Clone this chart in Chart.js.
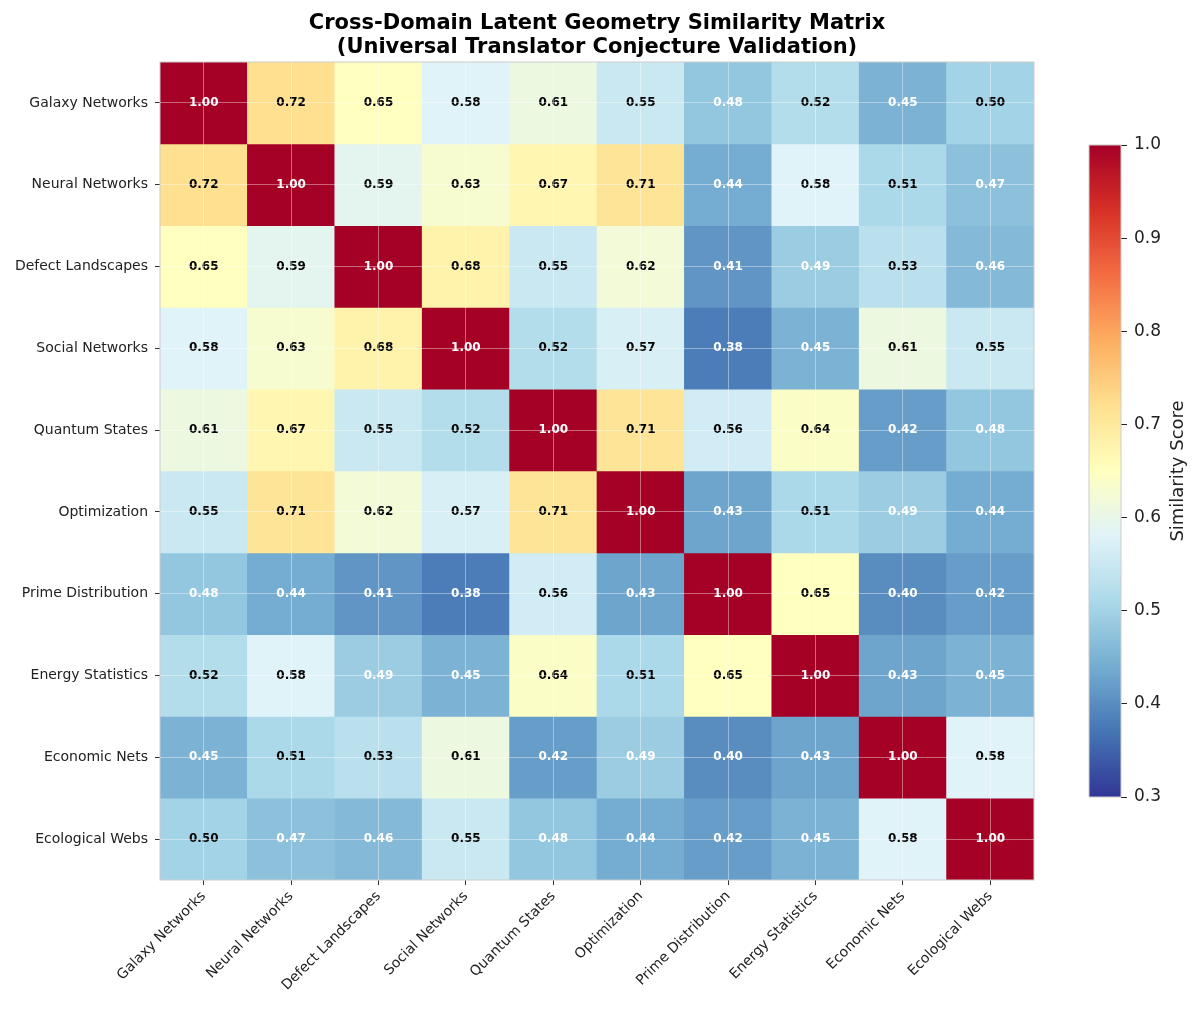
<!DOCTYPE html>
<html>
<head>
<meta charset="utf-8">
<script src="https://cdn.jsdelivr.net/npm/chart.js@4.4.1/dist/chart.umd.min.js"></script>
<style>
  body { margin: 0; background: #fff; }
  #wrap { position: relative; width: 1200px; height: 1010px; }
  #heat { position: absolute; left: 0; top: 0; }
  #cbar { position: absolute; left: 1085px; top: 125px; }
</style>
</head>
<body>
<div id="wrap">
  <canvas id="heat" width="1200" height="1010"></canvas>
  <canvas id="cbar" width="115" height="690"></canvas>
</div>
<script>
const domains = [
  'Galaxy Networks', 'Neural Networks', 'Defect Landscapes', 'Social Networks', 'Quantum States',
  'Optimization', 'Prime Distribution', 'Energy Statistics', 'Economic Nets', 'Ecological Webs'
];

// similarity[row][col]
const similarity = [
  [1.00, 0.72, 0.65, 0.58, 0.61, 0.55, 0.48, 0.52, 0.45, 0.50],
  [0.72, 1.00, 0.59, 0.63, 0.67, 0.71, 0.44, 0.58, 0.51, 0.47],
  [0.65, 0.59, 1.00, 0.68, 0.55, 0.62, 0.41, 0.49, 0.53, 0.46],
  [0.58, 0.63, 0.68, 1.00, 0.52, 0.57, 0.38, 0.45, 0.61, 0.55],
  [0.61, 0.67, 0.55, 0.52, 1.00, 0.71, 0.56, 0.64, 0.42, 0.48],
  [0.55, 0.71, 0.62, 0.57, 0.71, 1.00, 0.43, 0.51, 0.49, 0.44],
  [0.48, 0.44, 0.41, 0.38, 0.56, 0.43, 1.00, 0.65, 0.40, 0.42],
  [0.52, 0.58, 0.49, 0.45, 0.64, 0.51, 0.65, 1.00, 0.43, 0.45],
  [0.45, 0.51, 0.53, 0.61, 0.42, 0.49, 0.40, 0.43, 1.00, 0.58],
  [0.50, 0.47, 0.46, 0.55, 0.48, 0.44, 0.42, 0.45, 0.58, 1.00],
];

const colorTicks = [0.3, 0.4, 0.5, 0.6, 0.7, 0.8, 0.9, 1.0];
const vmin = 0.3, vmax = 1.0;

// RdYlBu reversed, low -> high
const cmap = ['#313695', '#4575b4', '#74add1', '#abd9e9', '#e0f3f8', '#ffffbf',
              '#fee090', '#fdae61', '#f46d43', '#d73027', '#a50026'];

Chart.defaults.font.family = "'DejaVu Sans', sans-serif";
Chart.defaults.color = '#222';

function hexToRgb(h) {
  return [1, 3, 5].map(i => parseInt(h.slice(i, i + 2), 16));
}

function colorFor(v) {
  let t = (v - vmin) / (vmax - vmin);
  t = Math.min(1, Math.max(0, t)) * (cmap.length - 1);
  const i = Math.min(Math.floor(t), cmap.length - 2);
  const f = t - i;
  const a = hexToRgb(cmap[i]), b = hexToRgb(cmap[i + 1]);
  const c = a.map((x, k) => Math.round(x + (b[k] - x) * f));
  return `rgb(${c[0]},${c[1]},${c[2]})`;
}

// title + frame + cell values
const heatPlugin = {
  id: 'heatExtras',
  afterDatasetsDraw(chart) {
    const ctx = chart.ctx;
    ctx.save();
    ctx.font = "bold 12px 'DejaVu Sans'";
    ctx.textAlign = 'center';
    ctx.textBaseline = 'middle';
    similarity.forEach((row, r) => {
      const meta = chart.getDatasetMeta(r);
      meta.data.forEach((bar, c) => {
        const v = row[c];
        ctx.fillStyle = (v < 0.5 || v > 0.8) ? '#fff' : '#000';
        ctx.fillText(v.toFixed(2), bar.x, (bar.y + bar.base) / 2);
      });
    });
    ctx.restore();
  },
  afterDraw(chart) {
    const { ctx, chartArea: a } = chart;
    ctx.save();
    ctx.strokeStyle = '#cccccc';
    ctx.lineWidth = 1;
    ctx.strokeRect(a.left, a.top, a.right - a.left, a.bottom - a.top);
    ctx.fillStyle = '#000';
    ctx.font = "bold 21px 'DejaVu Sans'";
    ctx.textAlign = 'center';
    ctx.textBaseline = 'alphabetic';
    const cx = (a.left + a.right) / 2;
    ctx.fillText('Cross-Domain Latent Geometry Similarity Matrix', cx, 29);
    ctx.fillText('(Universal Translator Conjecture Validation)', cx, 53);
    ctx.restore();
  }
};

new Chart(document.getElementById('heat'), {
  type: 'bar',
  data: {
    labels: domains,
    datasets: similarity.map((row, r) => ({
      label: domains[r],
      data: row.map(() => 1),
      backgroundColor: row.map(colorFor),
      borderWidth: 0,
      categoryPercentage: 1,
      barPercentage: 1,
      stack: 'rows',
    })),
  },
  options: {
    responsive: false,
    animation: false,
    layout: { padding: { left: 0, right: 166, top: 62, bottom: 0 } },
    plugins: { legend: { display: false }, tooltip: { enabled: false } },
    scales: {
      x: {
        stacked: true,
        afterFit: s => { s.height = 130; },
        border: { display: false },
        grid: { offset: false, z: 1, color: 'rgba(255,255,255,0.4)', tickColor: '#333', tickLength: 5 },
        ticks: { autoSkip: false, maxRotation: 45, minRotation: 45, font: { size: 14 }, color: '#222', padding: 3 },
      },
      y: {
        stacked: true,
        reverse: true,
        min: 0,
        max: domains.length,
        afterFit: s => { s.width = 160; },
        afterBuildTicks: s => { s.ticks = domains.map((_, i) => ({ value: i + 0.5 })); },
        border: { display: false },
        grid: { z: 1, color: 'rgba(255,255,255,0.4)', tickColor: '#333', tickLength: 5 },
        ticks: { autoSkip: false, font: { size: 14 }, color: '#222', padding: 7,
                 callback: (v, i) => domains[i] },
      },
    },
  },
  plugins: [heatPlugin],
});

// colour bar
const cbarPlugin = {
  id: 'cbarExtras',
  afterDraw(chart) {
    const { ctx, chartArea: a } = chart;
    ctx.save();
    ctx.strokeStyle = '#cccccc';
    ctx.lineWidth = 1;
    ctx.strokeRect(a.left, a.top, a.right - a.left, a.bottom - a.top);
    ctx.translate(93, (a.top + a.bottom) / 2);
    ctx.rotate(-Math.PI / 2);
    ctx.fillStyle = '#222';
    ctx.font = "18px 'DejaVu Sans'";
    ctx.textAlign = 'center';
    ctx.textBaseline = 'middle';
    ctx.fillText('Similarity Score', 0, 0);
    ctx.restore();
  }
};

new Chart(document.getElementById('cbar'), {
  type: 'bar',
  data: {
    labels: [''],
    datasets: [{
      data: [[vmin, vmax]],
      borderWidth: 0,
      categoryPercentage: 1,
      barPercentage: 1,
      backgroundColor: ctx => {
        const a = ctx.chart.chartArea;
        if (!a) return cmap[0];
        const g = ctx.chart.ctx.createLinearGradient(0, a.bottom, 0, a.top);
        cmap.forEach((c, i) => g.addColorStop(i / (cmap.length - 1), c));
        return g;
      },
    }],
  },
  options: {
    responsive: false,
    animation: false,
    layout: { padding: { left: 4, right: 0, top: 20, bottom: 18 } },
    plugins: { legend: { display: false }, tooltip: { enabled: false } },
    scales: {
      x: { display: false },
      y: {
        position: 'right',
        min: vmin,
        max: vmax,
        afterFit: s => { s.width = 79; },
        afterBuildTicks: s => { s.ticks = colorTicks.map(v => ({ value: v })); },
        border: { display: false },
        grid: { drawOnChartArea: false, color: '#222', tickColor: '#222', tickLength: 6 },
        ticks: { font: { size: 17 }, color: '#222', padding: 7, callback: v => v.toFixed(1) },
      },
    },
  },
  plugins: [cbarPlugin],
});
</script>
</body>
</html>
